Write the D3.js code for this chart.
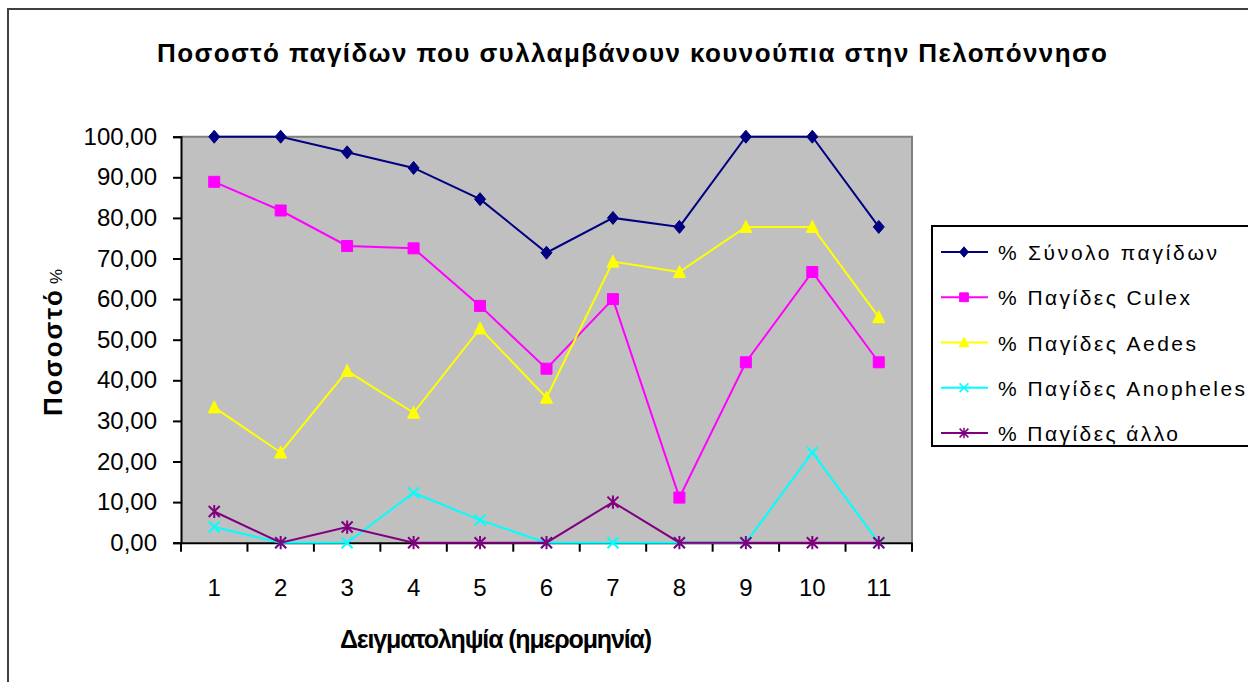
<!DOCTYPE html>
<html>
<head>
<meta charset="utf-8">
<script src="https://cdn.jsdelivr.net/npm/d3@7"></script>
<style>
  body { margin: 0; background: #fff; }
  svg { display: block; font-family: "Liberation Sans", Arial, sans-serif; }
</style>
</head>
<body>
<div id="chart"></div>
<script>
// chart data
const samples = [1, 2, 3, 4, 5, 6, 7, 8, 9, 10, 11];
const totalTraps = [100, 100, 96.15, 92.31, 84.62, 71.43, 80, 77.78, 100, 100, 77.78];
const culexTraps = [88.89, 81.82, 73.08, 72.5, 58.33, 42.86, 60, 11.11, 44.44, 66.67, 44.44];
const aedesTraps = [33.33, 22.22, 42.31, 32, 52.78, 35.71, 69.23, 66.67, 77.78, 77.78, 55.56];
const anophelesTraps = [3.85, 0, 0, 12.3, 5.56, 0, 0, 0, 0, 22.22, 0];
const otherTraps = [7.69, 0, 3.85, 0, 0, 0, 10, 0, 0, 0, 0];
const yTicks = [0, 10, 20, 30, 40, 50, 60, 70, 80, 90, 100];

const series = [
  { name: '% Σύνολο παγίδων', values: totalTraps, color: '#000080', marker: 'diamond', textLen: 219 },
  { name: '% Παγίδες Culex', values: culexTraps, color: '#FF00FF', marker: 'square', textLen: 192 },
  { name: '% Παγίδες Aedes', values: aedesTraps, color: '#FFFF00', marker: 'triangle', textLen: 198 },
  { name: '% Παγίδες Anopheles', values: anophelesTraps, color: '#00FFFF', marker: 'cross', textLen: 247 },
  { name: '% Παγίδες άλλο', values: otherTraps, color: '#800080', marker: 'star', textLen: 180 }
];

const width = 1248, height = 682;
const plot = { left: 181, right: 912, top: 136.7, bottom: 542.7 };

const svg = d3.select('#chart').append('svg')
    .attr('width', width)
    .attr('height', height);

// outer chart frame (right/bottom edges fall outside the picture)
svg.append('rect')
    .attr('x', 8).attr('y', 9)
    .attr('width', width + 20).attr('height', height + 20)
    .attr('fill', '#fff')
    .attr('stroke', '#404040')
    .attr('stroke-width', 2);

const x = d3.scaleBand()
    .domain(samples)
    .range([plot.left, plot.right]);

const y = d3.scaleLinear()
    .domain([0, 100])
    .range([plot.bottom, plot.top]);

const cx = (d) => x(d) + x.bandwidth() / 2;

// plot background
svg.append('rect')
    .attr('x', plot.left).attr('y', plot.top)
    .attr('width', plot.right - plot.left)
    .attr('height', plot.bottom - plot.top)
    .attr('fill', '#C0C0C0');

svg.append('path')
    .attr('d', `M${plot.left},${plot.top}H${plot.right}V${plot.bottom}`)
    .attr('fill', 'none')
    .attr('stroke', '#808080')
    .attr('stroke-width', 2);

// y axis
const yAxis = svg.append('g')
    .attr('transform', `translate(${plot.left},0)`)
    .call(d3.axisLeft(y)
      .tickValues(yTicks)
      .tickSize(8)
      .tickPadding(16)
      .tickFormat((d) => d.toFixed(2).replace('.', ',')));

yAxis.select('.domain').attr('stroke', '#000').attr('stroke-width', 2);
yAxis.selectAll('.tick line').attr('stroke', '#000').attr('stroke-width', 2);
yAxis.selectAll('.tick text')
    .attr('font-size', 24)
    .attr('font-family', '"Liberation Sans", Arial, sans-serif')
    .attr('fill', '#000');

// x axis: labels centred in the bands, ticks on the band edges
const xAxis = svg.append('g')
    .attr('transform', `translate(0,${plot.bottom})`)
    .call(d3.axisBottom(x).tickSize(0).tickPadding(36));

xAxis.select('.domain').attr('stroke', '#000').attr('stroke-width', 2);
xAxis.selectAll('.tick text')
    .attr('font-size', 24)
    .attr('font-family', '"Liberation Sans", Arial, sans-serif')
    .attr('fill', '#000');

xAxis.selectAll('line.edge')
    .data(d3.range(samples.length + 1))
  .enter().append('line')
    .attr('class', 'edge')
    .attr('x1', (i) => plot.left + i * x.step())
    .attr('x2', (i) => plot.left + i * x.step())
    .attr('y1', 0)
    .attr('y2', 9)
    .attr('stroke', '#000')
    .attr('stroke-width', 2);

// markers
const markerPath = (type, s) => {
  const r = 5.5 * s;
  if (type === 'diamond') return `M0,${-6.5 * s}L${r},0L0,${6.5 * s}L${-r},0Z`;
  if (type === 'square') return `M${-r},${-r}H${r}V${r}H${-r}Z`;
  if (type === 'triangle') return `M0,${-6.5 * s}L${6 * s},${5.5 * s}H${-6 * s}Z`;
  if (type === 'cross') return `M${-r},${-r}L${r},${r}M${r},${-r}L${-r},${r}`;
  return `M${-r},${-r}L${r},${r}M${r},${-r}L${-r},${r}M0,${-r * 1.2}V${r * 1.2}`;
};

const line = d3.line()
    .x((d, i) => cx(samples[i]))
    .y((d) => y(d));

series.forEach((s) => {
  const g = svg.append('g').attr('class', 'series');

  g.append('path')
      .datum(s.values)
      .attr('d', line)
      .attr('fill', 'none')
      .attr('stroke', s.color)
      .attr('stroke-width', 2);

  const stroked = s.marker === 'cross' || s.marker === 'star';
  g.selectAll('path.marker')
      .data(s.values)
    .enter().append('path')
      .attr('class', 'marker')
      .attr('transform', (d, i) => `translate(${cx(samples[i])},${y(d)})`)
      .attr('d', markerPath(s.marker, 1))
      .attr('fill', stroked ? 'none' : s.color)
      .attr('stroke', s.color)
      .attr('stroke-width', stroked ? 2 : 1);
});

// title
svg.append('text')
    .attr('x', 632)
    .attr('y', 62)
    .attr('text-anchor', 'middle')
    .attr('font-size', 26)
    .attr('font-weight', 'bold')
    .attr('textLength', 950)
    .attr('lengthAdjust', 'spacing')
    .text('Ποσοστό παγίδων που συλλαμβάνουν κουνούπια στην Πελοπόννησο');

// axis titles
svg.append('text')
    .attr('x', 496)
    .attr('y', 648)
    .attr('text-anchor', 'middle')
    .attr('font-size', 25)
    .attr('font-weight', 'bold')
    .attr('textLength', 312)
    .attr('lengthAdjust', 'spacing')
    .text('Δειγματοληψία (ημερομηνία)');

const yTitle = svg.append('text')
    .attr('transform', 'translate(62,416) rotate(-90)')
    .attr('font-size', 26);

yTitle.append('tspan')
    .attr('font-weight', 'bold')
    .attr('textLength', 126)
    .attr('lengthAdjust', 'spacing')
    .text('Ποσοστό');

yTitle.append('tspan')
    .attr('dx', 4)
    .attr('font-size', 17)
    .text('%');

// legend
const legend = svg.append('g').attr('class', 'legend');

legend.append('rect')
    .attr('x', 932).attr('y', 226)
    .attr('width', 340).attr('height', 220)
    .attr('fill', '#fff')
    .attr('stroke', '#000')
    .attr('stroke-width', 2);

const rowY = d3.scalePoint()
    .domain(series.map((s) => s.name))
    .range([252, 433]);

const rows = legend.selectAll('g.row')
    .data(series)
  .enter().append('g')
    .attr('class', 'row')
    .attr('transform', (d) => `translate(0,${rowY(d.name)})`);

rows.append('line')
    .attr('x1', 941).attr('x2', 988)
    .attr('stroke', (d) => d.color)
    .attr('stroke-width', 2);

rows.append('path')
    .attr('transform', 'translate(964,0)')
    .attr('d', (d) => markerPath(d.marker, 0.8))
    .attr('fill', (d) => (d.marker === 'cross' || d.marker === 'star') ? 'none' : d.color)
    .attr('stroke', (d) => d.color)
    .attr('stroke-width', (d) => (d.marker === 'cross' || d.marker === 'star') ? 1.5 : 1);

rows.append('text')
    .attr('x', 998)
    .attr('y', 8)
    .attr('font-size', 21)
    .attr('textLength', (d) => d.textLen)
    .attr('lengthAdjust', 'spacing')
    .text((d) => d.name);
</script>
</body>
</html>
